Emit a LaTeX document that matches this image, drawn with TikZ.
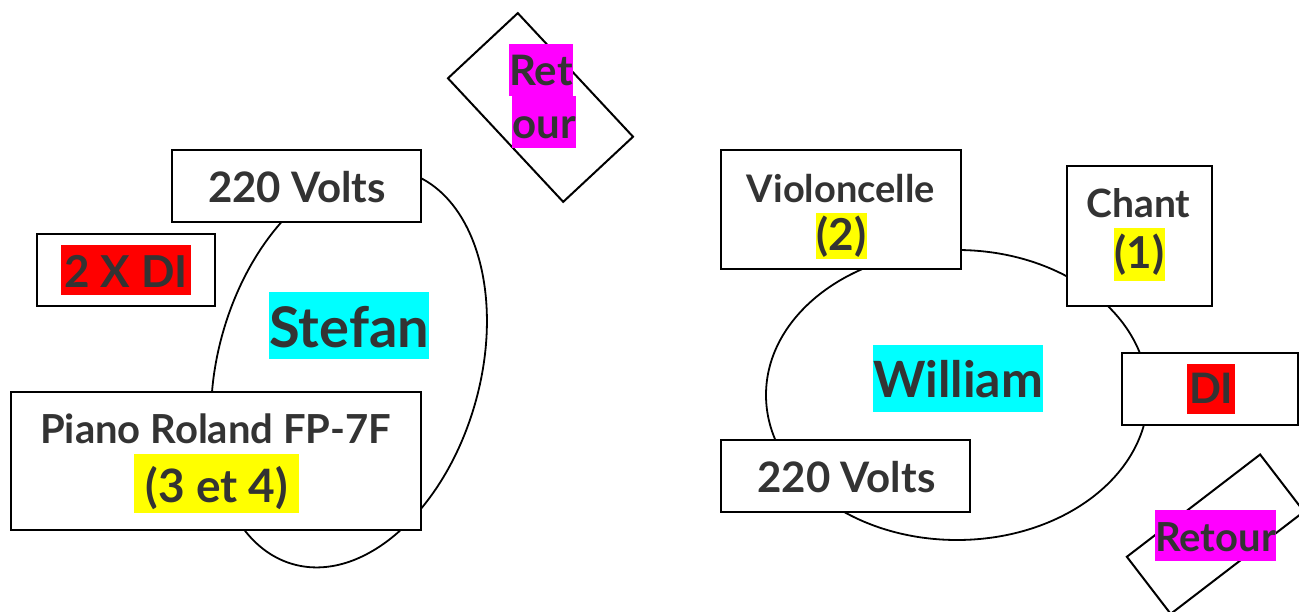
\documentclass[tikz,border=0pt]{standalone}
\usepackage{fontspec}
\setmainfont{Lato}
\usetikzlibrary{shapes.geometric}
\definecolor{txt}{HTML}{333333}
\definecolor{hlyellow}{HTML}{FFFF00}
\definecolor{hlcyan}{HTML}{00FFFF}
\definecolor{hlred}{HTML}{FF0000}
\definecolor{hlmag}{HTML}{FF00FF}
\begin{document}
\begin{tikzpicture}[x=1pt,y=1pt,
  box/.style={draw=black, fill=white, line width=2pt, anchor=north west, inner sep=0pt, outer sep=0pt},
  tiltbox/.style={draw=black, fill=white, line width=2pt, inner sep=0pt, outer sep=0pt},
  oval/.style={draw=black, ellipse, line width=1.8pt, inner sep=0pt, outer sep=0pt},
  fs/.style={font=\fontsize{#1}{#1}\selectfont\bfseries},
  lbl/.style={text=txt, fs=42, anchor=base, inner sep=0pt},
  hl/.style={text=txt, fs=42, anchor=north west, inner sep=0pt, align=center},
]
\useasboundingbox (0,0) rectangle (1299,-612);
\clip (0,0) rectangle (1299,-612);
% ---------- Stefan ----------
\node[oval, minimum width=262pt, minimum height=408pt, rotate=-16] (stefanoval) at (349,-368) {};
\node[box, minimum width=249pt, minimum height=72pt] (voltsL) at (172,-150) {};
\node[lbl] (voltsLt) at (297,-203) {220 Volts};
\node[box, minimum width=178pt, minimum height=72pt] (diL) at (37,-234) {};
\node[hl, fs=44, fill=hlred, minimum width=130pt, text height=42pt, text depth=8pt] (diLt) at (61,-245) {2 X DI};
\node[box, minimum width=410pt, minimum height=138pt] (piano) at (11,-392) {};
\node[lbl, fs=40] (pianot) at (215.5,-443) {Piano Roland FP-7F};
\node[hl, fs=46, fill=hlyellow, minimum width=165pt, text height=48pt, text depth=11pt] (pianon) at (134,-454) {(3 et 4)};
\node[hl, fs=56, fill=hlcyan, minimum width=160pt, text height=55pt, text depth=12pt] (stefan) at (269,-292) {Stefan};
\node[tiltbox, minimum width=169pt, minimum height=95.5pt, rotate=-47] (retourA) at (540.5,-107.5) {};
\node[hl, fill=hlmag, minimum width=63pt, text height=41pt, text depth=11pt] (ret) at (509,-44) {Ret};
\node[hl, fill=hlmag, minimum width=57pt, text height=42pt, text depth=10pt] (our) at (512,-96) {our};
% ---------- William ----------
\node[oval, minimum width=382pt, minimum height=290pt] (williamoval) at (957,-395) {};
\node[box, minimum width=240pt, minimum height=119pt] (cello) at (721,-150) {};
\node[lbl, fs=38] (cellot) at (841,-203) {Violoncelle};
\node[hl, fs=44, fill=hlyellow, minimum width=51pt, text height=37pt, text depth=9pt] (cellon) at (816,-213) {(2)};
\node[box, minimum width=145pt, minimum height=140pt] (chant) at (1067,-166) {};
\node[lbl, fs=39] (chantt) at (1138.5,-218) {Chant};
\node[hl, fs=44, fill=hlyellow, minimum width=51pt, text height=40pt, text depth=13pt] (chantn) at (1114,-228) {(1)};
\node[box, minimum width=176pt, minimum height=72pt] (diR) at (1122,-353) {};
\node[hl, fill=hlred, minimum width=48pt, text height=39pt, text depth=11pt] (diRt) at (1187,-364) {DI};
\node[box, minimum width=249pt, minimum height=72pt] (voltsR) at (721,-440) {};
\node[lbl] (voltsRt) at (846.5,-492) {220 Volts};
\node[hl, fs=50, fill=hlcyan, minimum width=169pt, text height=52pt, text depth=15pt] (william) at (873,-345) {William};
\node[tiltbox, minimum width=168pt, minimum height=72pt, rotate=37.5] (retourB) at (1215.4,-534.2) {};
\node[hl, fs=40, fill=hlmag, minimum width=120pt, text height=41pt, text depth=10pt] (retour) at (1155,-510) {Retour};
\end{tikzpicture}
\end{document}
